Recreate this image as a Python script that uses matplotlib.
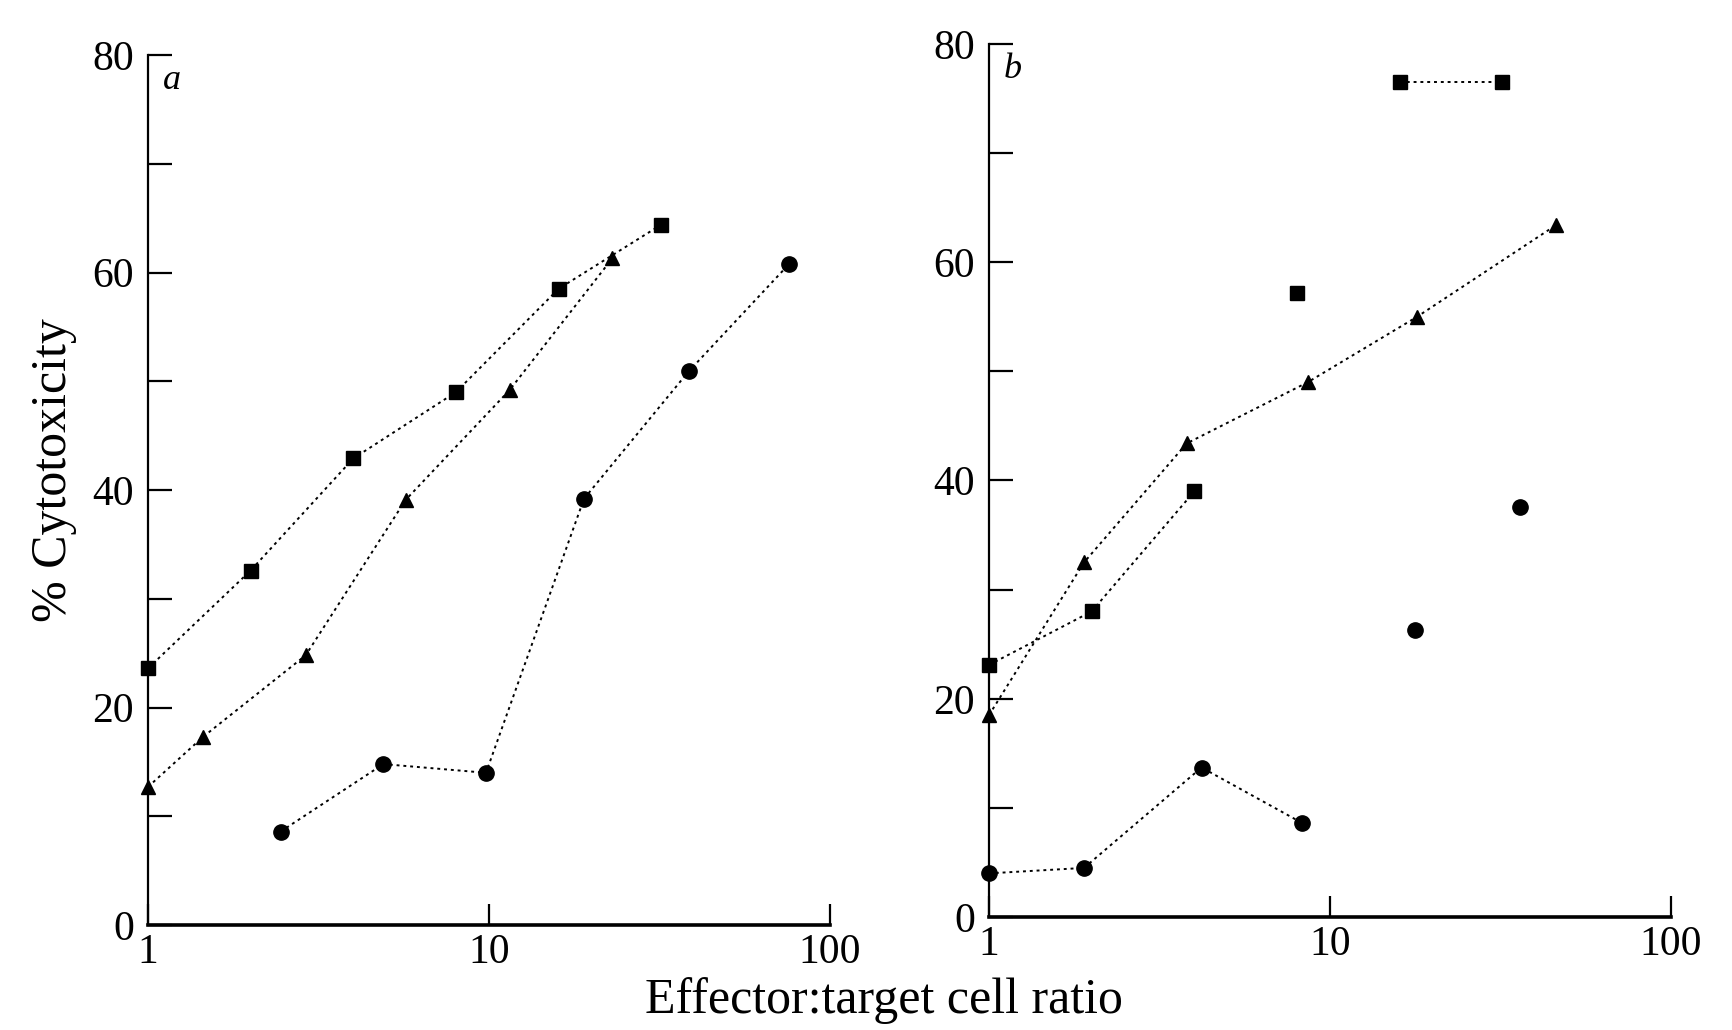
import matplotlib
matplotlib.use("Agg")
import matplotlib.pyplot as plt
from matplotlib.ticker import FixedLocator, NullLocator, FixedFormatter

# ---- data (x = effector:target ratio, y = % cytotoxicity) ----
# panel a
a_sq_x = [1, 2, 4, 8, 16, 32]
a_sq_y = [23.6, 32.6, 42.9, 49.0, 58.5, 64.4]
a_tri_x = [1, 1.45, 2.9, 5.7, 11.5, 23]
a_tri_y = [12.7, 17.3, 24.8, 39.1, 49.2, 61.3]
a_cir_x = [2.45, 4.9, 9.8, 19, 38.5, 76]
a_cir_y = [8.6, 14.8, 14.0, 39.2, 50.9, 60.8]

# panel b
b_sq_x = [1, 2, 4, 8, 16, 32]
b_sq_y = [23.1, 28.0, 39.0, 57.2, 76.5, 76.5]
b_tri_x = [1, 1.9, 3.8, 8.6, 18, 46]
b_tri_y = [18.5, 32.5, 43.4, 49.0, 55.0, 63.4]
b_cir_x = [1, 1.9, 4.2, 8.3, 17.8, 36]
b_cir_y = [4.0, 4.5, 13.7, 8.6, 26.3, 37.6]

y_major = [0, 20, 40, 60, 80]
y_minor = [10, 30, 50, 70]
x_major = [1, 10, 100]
x_labels = ["1", "10", "100"]

plt.rcParams["font.family"] = ["Liberation Serif", "DejaVu Serif"]

fig = plt.figure(figsize=(17.33, 10.30), dpi=100)
ax_a = fig.add_axes([0.0854, 0.1019, 0.3935, 0.8447])
ax_b = fig.add_axes([0.5707, 0.1097, 0.3935, 0.8476])

line_kw = dict(color="black", linestyle=(0, (1.5, 2.0)), linewidth=1.4, clip_on=False)


def draw_series(ax, x, y, marker, ms, runs=None):
    # runs: groups of point indices joined by a dotted line (the scan lost some joins)
    if runs is None:
        runs = [list(range(len(x)))]
    for run in runs:
        ax.plot([x[i] for i in run], [y[i] for i in run], **line_kw)
    ax.plot(x, y, linestyle="none", marker=marker, markersize=ms,
            markerfacecolor="black", markeredgecolor="black", clip_on=False)


def style_axes(ax, tag):
    ax.set_xscale("log")
    ax.set_xlim(1, 100)
    ax.set_ylim(0, 80)
    for side in ("top", "right"):
        ax.spines[side].set_visible(False)
    ax.spines["left"].set_linewidth(1.6)
    ax.spines["bottom"].set_linewidth(2.6)

    ax.yaxis.set_major_locator(FixedLocator(y_major))
    ax.yaxis.set_minor_locator(FixedLocator(y_minor))
    ax.xaxis.set_major_locator(FixedLocator(x_major))
    ax.xaxis.set_major_formatter(FixedFormatter(x_labels))
    ax.xaxis.set_minor_locator(NullLocator())

    ax.tick_params(axis="y", which="both", direction="in", length=17, width=1.6,
                   labelsize=30, pad=10)
    ax.tick_params(axis="x", which="major", direction="in", length=15, width=1.6,
                   labelsize=30, pad=6)
    ax.text(0.022, 0.99, tag, transform=ax.transAxes, fontsize=26,
            style="italic", ha="left", va="top")


draw_series(ax_a, a_sq_x, a_sq_y, "s", 10.5)
draw_series(ax_a, a_tri_x, a_tri_y, "^", 10.5)
draw_series(ax_a, a_cir_x, a_cir_y, "o", 11)

draw_series(ax_b, b_sq_x, b_sq_y, "s", 10.5, runs=[[0, 1, 2], [4, 5]])
draw_series(ax_b, b_tri_x, b_tri_y, "^", 10.5)
draw_series(ax_b, b_cir_x, b_cir_y, "o", 11, runs=[[0, 1, 2, 3]])

style_axes(ax_a, "a")
style_axes(ax_b, "b")

fig.text(0.031, 0.544, "% Cytotoxicity", rotation=90, fontsize=36,
         ha="center", va="center")
fig.text(0.510, 0.029, "Effector:target cell ratio", fontsize=36,
         ha="center", va="center")

fig.savefig("out.png", dpi=100, facecolor="white")
